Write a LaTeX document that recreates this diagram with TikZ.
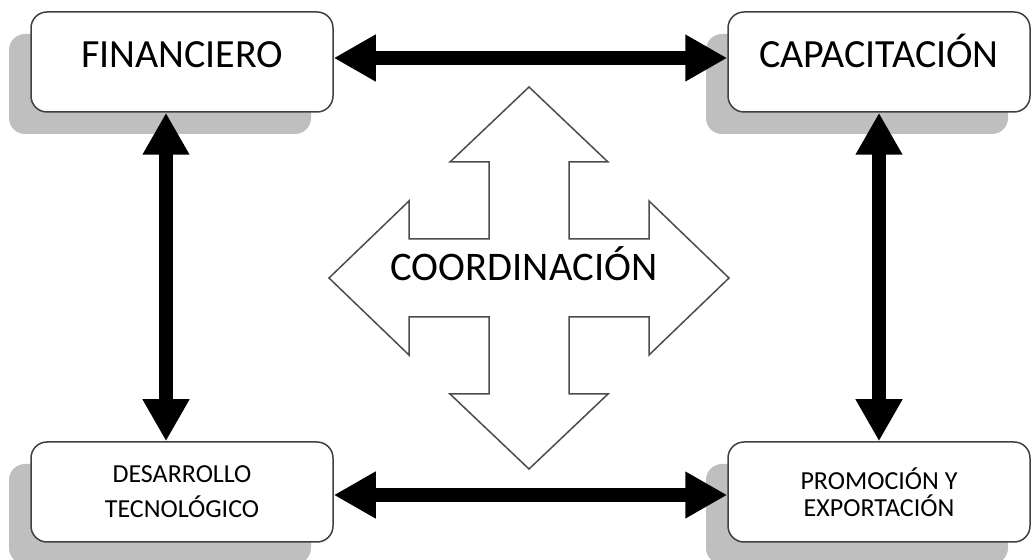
\documentclass[tikz,border=0pt]{standalone}
\usepackage{fontspec}
\setmainfont{Carlito}
\usetikzlibrary{positioning, shadows, arrows.meta}

\begin{document}
\begin{tikzpicture}[
        x=0.5pt, y=-0.5pt,
        node distance=215pt and 348.5pt,
        on grid,
        every node/.style={font=\fontsize{13}{13.5}\selectfont},
        area/.style={draw=black!75, line width=0.75pt, rounded corners=8pt, fill=white,
            minimum width=151pt, minimum height=50pt, align=center,
            drop shadow={shadow xshift=-11pt, shadow yshift=-11pt, fill=black!25, opacity=1}},
        bigtext/.style={font=\fontsize{20}{24}\selectfont, text height=14pt, text depth=8pt},
        hubarrow/.style={draw=black!70, line width=0.75pt, fill=white, line join=miter},
        link/.style={line width=7pt, {Triangle[length=21pt, width=22pt]}-{Triangle[length=21pt, width=22pt]}}]
        \useasboundingbox (0,0) rectangle (1033,560);
        % Areas
        \node[area, bigtext] (fin) at (182,62) {FINANCIERO};
        \node[area, bigtext, right=of fin] (cap) {CAPACITACIÓN};
        \node[area, below=of fin] (des) {DESARROLLO\\[4pt]TECNOLÓGICO};
        \node[area, below=of cap] (pro) {PROMOCIÓN Y\\EXPORTACIÓN};
        
        % Coordination
        \coordinate (hub) at (529,278);
        \draw[hubarrow, shift={(hub)}] (0,-191) -- (79,-116) -- (40,-116) -- (40,-39) -- (120,-39) -- (120,-77)
            -- (200,0) -- (120,77) -- (120,39) -- (40,39) -- (40,116) -- (79,116)
            -- (0,191) -- (-79,116) -- (-40,116) -- (-40,39) -- (-120,39) -- (-120,77)
            -- (-200,0) -- (-120,-77) -- (-120,-39) -- (-40,-39) -- (-40,-116) -- (-79,-116) -- cycle;
        \node[font=\fontsize{20.3}{24}\selectfont] (coord) at (524,264) {COORDINACIÓN};
        
        % Links
        \draw[link] ([yshift=2pt]fin.east) -- ([yshift=2pt]cap.west);
        \draw[link] ([xshift=-8pt]fin.south) -- ([xshift=-8pt]des.north);
        \draw[link] (cap) -- (pro);
        \draw[link] ([yshift=-1.5pt]des.east) -- ([yshift=-1.5pt]pro.west);
\end{tikzpicture}
\end{document}
